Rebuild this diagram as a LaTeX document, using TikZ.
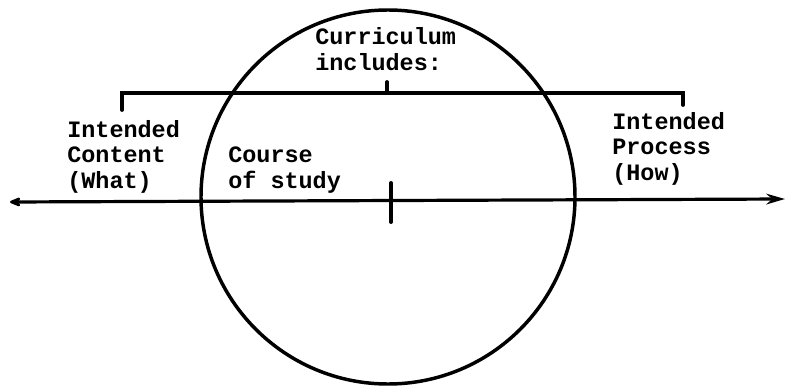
\documentclass[tikz,border=0pt]{standalone}
\usepackage{fontspec}
\setmonofont{Liberation Mono}
\usepackage{tikz}
\usetikzlibrary{positioning,arrows.meta}

\begin{document}
\begin{tikzpicture}[
  x=0.75pt, y=-0.75pt,
  txt/.style={font=\fontsize{17.6}{18.8}\selectfont\ttfamily\bfseries, align=left, inner sep=0pt, anchor=base west},
  ring/.style={draw, circle, line width=2.6pt, minimum size=280.5pt, inner sep=0pt},
  brk/.style={line width=2.8pt, line cap=round},
  axis/.style={line width=2.4pt, {Stealth[length=14pt,width=8pt]}-{Stealth[length=11pt,width=9pt,round]}},
  tick/.style={line width=3pt, line cap=round}
]
\useasboundingbox (0,0) rectangle (786,389);

% ── Circle ───────────────────────────────────────────────────
\node[ring] (crc) at (388,197) {};

% ── Axis ─────────────────────────────────────────────────────
\coordinate (axL) at (10,202);
\coordinate (axR) at (785,199);
\coordinate (tkT) at (391,183);
\coordinate (tkB) at (391,222);
\draw[axis] (axR) -- (axL);
\draw[tick] (tkT) -- (tkB);

% ── Bracket ──────────────────────────────────────────────────
\coordinate (brL) at (122,110);
\coordinate (brLt) at (122,93);
\coordinate (brRt) at (683,93);
\coordinate (brR) at (683,105);
\coordinate (brM) at (387,82);
\coordinate (brMb) at (387,93);
\draw[brk] (brL) -- (brLt) -- (brRt) -- (brR);
\draw[brk] (brM) -- (brMb);

% ── Labels (anchored at the last line) ───────────────────────
\node[txt] (curr)    at (315,70)  {Curriculum\\includes:};
\node[txt] (content) at (67,188)  {Intended\\Content\\(What)};
\node[txt] (course)  at (228,188) {Course\\of study};
\node[txt] (process) at (612,180) {Intended\\Process\\(How)};

\end{tikzpicture}
\end{document}
